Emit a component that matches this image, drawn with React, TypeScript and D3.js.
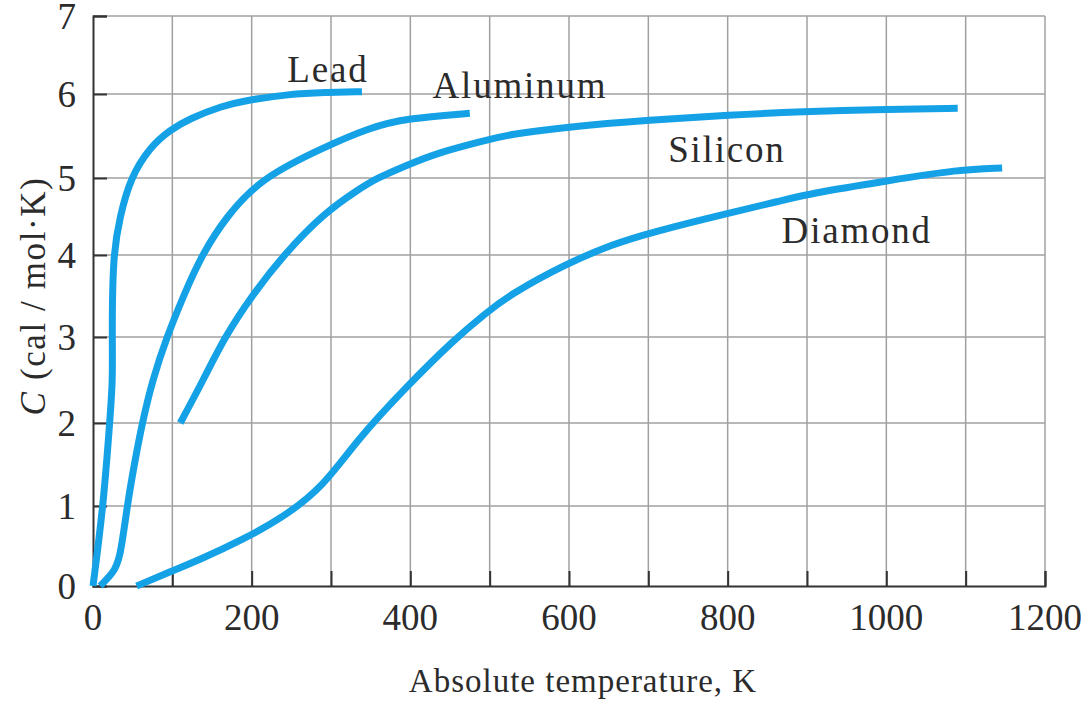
import React, { useEffect, useRef } from 'react';
import * as d3 from 'd3';

// Heat capacity vs temperature
const leadT = [0, 13, 21, 25, 24, 25, 34, 47, 72, 97, 122, 164, 190, 248, 292, 339];
const leadC = [0, 1.0, 2.0, 2.5, 3.0, 4.0, 4.5, 5.0, 5.37, 5.57, 5.71, 5.86, 5.92, 6.0, 6.02, 6.03];

const aluminumT = [9, 25, 34, 43, 52, 62, 75, 93, 114, 137, 168, 212, 292, 349, 395, 475];
const aluminumC = [0, 0.16, 0.32, 1.0, 1.5, 2.0, 2.5, 3.0, 3.5, 4.0, 4.5, 5.0, 5.37, 5.6, 5.71, 5.77];

const siliconT = [110, 139, 166, 200, 240, 292, 333, 358, 395, 434, 495, 526, 598, 702, 803, 891, 1005, 1090];
const siliconC = [2.0, 2.5, 3.0, 3.5, 4.0, 4.55, 4.84, 5.0, 5.15, 5.3, 5.45, 5.52, 5.61, 5.69, 5.75, 5.79, 5.82, 5.83];

const diamondT = [55, 93, 135, 189, 240, 290, 333, 395, 454, 495, 526, 598, 655, 702, 803, 866, 904, 1005, 1090, 1146];
const diamondC = [0, 0.16, 0.33, 0.58, 0.86, 1.23, 1.8, 2.42, 2.96, 3.29, 3.52, 3.9, 4.14, 4.29, 4.55, 4.7, 4.8, 4.97, 5.1, 5.12];

const xTickLabels = [0, 200, 400, 600, 800, 1000, 1200];
const yTickLabels = [0, 1, 2, 3, 4, 5, 6, 7];

// curve labels: name, anchor temperature, anchor C
const labelNames = ['Lead', 'Aluminum', 'Silicon', 'Diamond'];
const labelT = [245, 428, 725, 868];
const labelC = [6.15, 5.95, 5.19, 4.16];

const App = () => {
  const svgRef = useRef<SVGSVGElement>(null);

  useEffect(() => {
    const width = 1081;
    const height = 706;
    const svg = d3.select(svgRef.current);
    svg.selectAll('*').remove();
    svg.attr('width', width).attr('height', height);

    const font = "'Liberation Serif', 'Times New Roman', serif";
    const ink = '#2b2b2b';
    const blue = '#14a1e6';

    const x = d3.scaleLinear().domain([0, 1200]).range([93, 1045]);
    // the printed grid is slightly uneven, so map each unit to its own row
    const y = d3.scaleLinear()
      .domain(yTickLabels)
      .range([586, 506, 423, 337, 255, 178, 94, 16]);

    const g = svg.append('g');

    // grid
    const gridX = d3.range(100, 1201, 100);
    const gridY = d3.range(1, 8, 1);
    g.selectAll('.vgrid')
      .data(gridX)
      .enter()
      .append('line')
      .attr('x1', d => x(d))
      .attr('x2', d => x(d))
      .attr('y1', y(0))
      .attr('y2', y(7))
      .attr('stroke', '#a0a0a0')
      .attr('stroke-width', 1.5);

    g.selectAll('.hgrid')
      .data(gridY)
      .enter()
      .append('line')
      .attr('x1', x(0))
      .attr('x2', x(1200))
      .attr('y1', d => y(d))
      .attr('y2', d => y(d))
      .attr('stroke', '#a0a0a0')
      .attr('stroke-width', 1.5);

    // axes with inward ticks
    const xAxis = d3.axisTop(x).tickValues(d3.range(0, 1201, 100)).tickSize(15).tickFormat(() => '');
    g.append('g')
      .attr('transform', `translate(0,${y(0)})`)
      .call(xAxis)
      .call(s => s.selectAll('path, line').attr('stroke', '#333').attr('stroke-width', 2));

    const yAxis = d3.axisRight(y).tickValues(yTickLabels).tickSize(14).tickFormat(() => '');
    g.append('g')
      .attr('transform', `translate(${x(0)},0)`)
      .call(yAxis)
      .call(s => s.selectAll('path, line').attr('stroke', '#333').attr('stroke-width', 2));

    // tick labels
    g.selectAll('.xlab')
      .data(xTickLabels)
      .enter()
      .append('text')
      .attr('x', d => x(d))
      .attr('y', 630)
      .attr('text-anchor', 'middle')
      .attr('font-family', font)
      .style('font-size', '37px')
      .style('fill', ink)
      .text(d => d);

    g.selectAll('.ylab')
      .data(yTickLabels)
      .enter()
      .append('text')
      .attr('x', 76)
      .attr('y', d => y(d) + 13)
      .attr('text-anchor', 'end')
      .attr('font-family', font)
      .style('font-size', '37px')
      .style('fill', ink)
      .text(d => d);

    // curves
    const line = d3.line<[number, number]>()
      .x(d => x(d[0]))
      .y(d => y(d[1]))
      .curve(d3.curveBasis);

    const series = [
      [leadT, leadC],
      [aluminumT, aluminumC],
      [siliconT, siliconC],
      [diamondT, diamondC],
    ];
    series.forEach(([ts, cs]) => {
      const pts = ts.map((t, i) => [t, cs[i]] as [number, number]);
      g.append('path')
        .datum(pts)
        .attr('d', line)
        .attr('fill', 'none')
        .attr('stroke', blue)
        .attr('stroke-width', 7);
    });

    // curve labels
    g.selectAll('.clab')
      .data(labelNames)
      .enter()
      .append('text')
      .attr('x', (d, i) => x(labelT[i]))
      .attr('y', (d, i) => y(labelC[i]))
      .attr('font-family', font)
      .style('font-size', '37px')
      .style('letter-spacing', '1.8px')
      .style('fill', ink)
      .text(d => d);

    // axis titles
    g.append('text')
      .attr('x', 583)
      .attr('y', 692)
      .attr('text-anchor', 'middle')
      .attr('font-family', font)
      .style('font-size', '33px')
      .style('letter-spacing', '1px')
      .style('fill', ink)
      .text('Absolute temperature, K');

    const yt = g.append('text')
      .attr('transform', 'translate(45,296) rotate(-90)')
      .attr('text-anchor', 'middle')
      .attr('font-family', font)
      .style('font-size', '35px')
      .style('letter-spacing', '1.6px')
      .style('fill', ink);
    yt.append('tspan').style('font-style', 'italic').text('C');
    yt.append('tspan').text(' (cal / mol·K)');
  }, []);

  return (
    <div style={{ position: 'absolute', left: 0, top: 0, background: '#fff' }}>
      <svg ref={svgRef}></svg>
    </div>
  );
};

export default App;
